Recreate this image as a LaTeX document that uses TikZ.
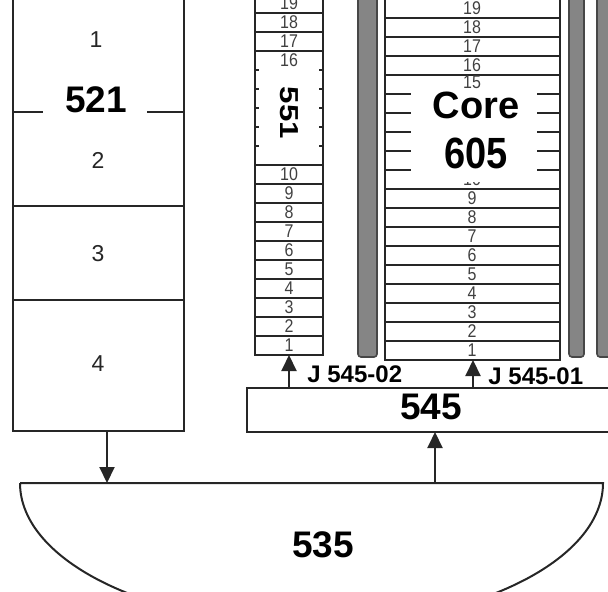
\documentclass[tikz,border=0pt]{standalone}
\usepackage{fontspec}
\setmainfont{Liberation Sans}
\usetikzlibrary{arrows.meta}
\begin{document}
\begin{tikzpicture}[x=0.5pt,y=-0.5pt,
  line/.style={line width=1pt, draw=black!85},
  rowline/.style={line width=0.9pt, draw=black!85},
  num/.style={font=\fontsize{8}{8}\selectfont, text=black!75, inner sep=0pt, yscale=1.15},
  lab/.style={font=\fontsize{11.5}{12}\selectfont, text=black!85, inner sep=0pt},
  big/.style={font=\fontsize{18.5}{20}\selectfont\bfseries, inner sep=0pt},
  jlab/.style={font=\fontsize{12}{12}\selectfont\bfseries, inner sep=0pt, anchor=west},
  arr/.style={line width=1pt, draw=black!85, -{Triangle[length=8pt,width=7.5pt]}},
  bar/.style={fill=black!48, draw=black!72, line width=0.8pt, rounded corners=1.5pt},
]
\useasboundingbox (0,0) rectangle (608,592);
\clip (0,0) rectangle (608,592);

% ---- box 521 ----
\draw[line] (13,-10) -- (13,431) -- (184,431) -- (184,-10);
\draw[line] (13,206) -- (184,206);
\draw[line] (13,300) -- (184,300);
\draw[line] (13,112) -- (43,112);
\draw[line] (147,112) -- (184,112);
\node[lab] (r1) at (96,40) {1};
\node[big] (n521) at (96,100) {521};
\node[lab] (r2) at (98,160) {2};
\node[lab] (r3) at (98,254) {3};
\node[lab] (r4) at (98,364) {4};
\coordinate (s521) at (107,431);

% ---- column 551 ----
\draw[rowline] (255,-10) -- (255,355) -- (323,355) -- (323,-10);
\foreach \k in {1,...,10,16,17,18} \draw[rowline] (255,355-19*\k) -- (323,355-19*\k);
\foreach \k in {11,...,15} {
  \draw[rowline] (255,355-19*\k) -- (259,355-19*\k);
  \draw[rowline] (319,355-19*\k) -- (323,355-19*\k);
}
\foreach \k in {1,...,10,16,17,18,19} \node[num] at (289,364.5-19*\k) {\k};
\node[font=\fontsize{13}{13}\selectfont\bfseries, inner sep=0pt, rotate=-90, xscale=1.2] (n551) at (289,113) {551};
\coordinate (b551) at (289,355);

% ---- gray bars ----
\draw[bar] (358,-10) rectangle (377,357);
\draw[bar] (569,-10) rectangle (584,357);
\draw[bar] (597,-10) rectangle (616,357);

% ---- core 605 ----
\draw[rowline] (385,-10) -- (385,360) -- (560,360) -- (560,-10);
\foreach \k in {1,...,9,15,16,17,18} \draw[rowline] (385,360-19*\k) -- (560,360-19*\k);
\foreach \k in {10,...,14} {
  \draw[rowline] (385,360-19*\k) -- (411,360-19*\k);
  \draw[rowline] (537,360-19*\k) -- (560,360-19*\k);
}
\foreach \k in {1,...,10,16,17,18,19} \node[num] at (472,369.5-19*\k) {\k};
\node[num] at (472,82.5) {15};
\fill[white] (414,91) rectangle (535,182);
\node[big, font=\fontsize{19}{20}\selectfont\bfseries] (core) at (476,105) {Core};
\node[big, font=\fontsize{19}{20}\selectfont\bfseries, yscale=1.15] (n605) at (476,153) {605};
\coordinate (bcore) at (473,360);

% ---- box 545 ----
\draw[line] (620,388) -- (247,388) -- (247,432) -- (620,432);
\node[big] (n545) at (431,407) {545};
\coordinate (t545a) at (289,388);
\coordinate (t545b) at (473,388);
\coordinate (b545) at (435,432);

% ---- 535 ----
\draw[line] (20,483) -- (603,483) arc[start angle=0, end angle=-180, x radius=145.75pt, y radius=71pt];
\node[big] (n535) at (323,545) {535};
\coordinate (t535a) at (107,483);
\coordinate (t535b) at (435,483);

% ---- connectors ----
\draw[arr] (s521) -- (t535a);
\draw[arr] (t535b) -- (b545);
\draw[arr] (t545a) -- (b551);
\draw[arr] (t545b) -- (bcore);
\node[jlab] (j02) at (307,374) {J 545-02};
\node[jlab] (j01) at (488,376) {J 545-01};
\end{tikzpicture}
\end{document}
